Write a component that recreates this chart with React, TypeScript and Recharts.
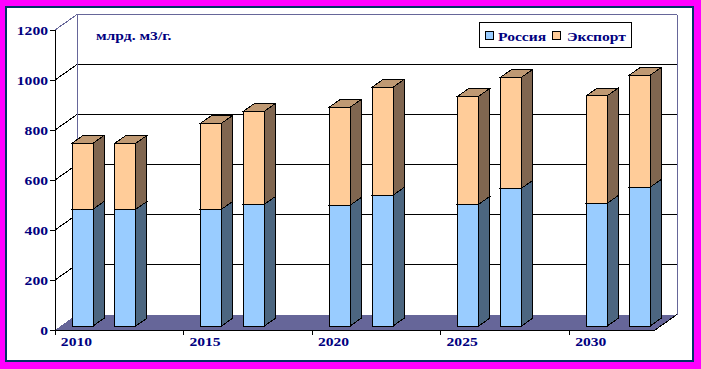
import React from 'react';
import { BarChart, Bar, XAxis, YAxis, CartesianGrid, Legend, Customized } from 'recharts';

// ---- data ----
const years = ['2010', '2015', '2020', '2025', '2030'];
const russia = [467, 467, 467, 487, 483, 523, 487, 551, 491, 555];
const exportVals = [264, 264, 344, 372, 392, 432, 432, 444, 430, 448];
const yTicks = [0, 200, 400, 600, 800, 1000, 1200];
const seriesNames = ['Россия', 'Экспорт'];
const unitLabel = 'млрд. м3/г.';

type Row = { key: string; label: string; russia?: number; export?: number };
const data: Row[] = [];
years.forEach((yr, i) => {
  data.push({ key: `${yr}-a`, label: yr, russia: russia[2 * i], export: exportVals[2 * i] });
  data.push({ key: `${yr}-b`, label: '', russia: russia[2 * i + 1], export: exportVals[2 * i + 1] });
  if (i < years.length - 1) data.push({ key: `${yr}-gap`, label: '' });
});

// ---- layout / style ----
const W = 701;
const H = 369;
const PLOT_L = 55;
const PLOT_T = 30;
const PLOT_R = 655;
const PLOT_B = 330;
const DX = 22; // depth of the box
const DY = 15.5;
const FX = 6; // bar front offset inside depth
const FY = 4;
const BX = 11; // bar depth
const BY = 7.75;
const FONT = "'Liberation Serif', 'Times New Roman', serif";
const NAVY = '#000080';
const SX = 1.2;
const WALL = '#666699';

const StretchText = ({ x, y, anchor, children }: any) => (
  <text
    transform={`translate(${x},${y}) scale(${SX},1)`}
    textAnchor={anchor}
    fontFamily={FONT}
    fontWeight="bold"
    fontSize={13}
    fill={NAVY}
  >
    {children}
  </text>
);

const makeShape = (front: string, side: string, top: string) => (props: any) => {
  const { x, y, width, height } = props;
  if (!height || height <= 0 || !isFinite(y)) return <g />;
  const fx = x + FX;
  const fy = y - FY;
  const w = width;
  const h = height;
  return (
    <g>
      <polygon
        points={`${fx},${fy} ${fx + BX},${fy - BY} ${fx + w + BX},${fy - BY} ${fx + w},${fy}`}
        fill={top}
        stroke="#000"
        strokeWidth={1}
      />
      <polygon
        points={`${fx + w},${fy} ${fx + w + BX},${fy - BY} ${fx + w + BX},${fy - BY + h} ${fx + w},${fy + h}`}
        fill={side}
        stroke="#000"
        strokeWidth={1}
      />
      <rect x={fx} y={fy} width={w} height={h} fill={front} stroke="#000" strokeWidth={1} />
    </g>
  );
};

const russiaShape = makeShape('#99CCFF', '#4C6680', '#739ABF');
const exportShape = makeShape('#FFCC99', '#806650', '#BF9973');

const gridLine = (p: any) => {
  const { x1, x2, y1, index } = p;
  const top = typeof p.y === 'number' ? p.y : PLOT_T;
  const bottom = top + (typeof p.height === 'number' ? p.height : PLOT_B - PLOT_T);
  const by = y1 - DY;
  if (Math.abs(y1 - bottom) < 0.5) {
    return (
      <g key={`g-${index}`}>
        <polygon
          points={`${x1},${y1} ${x1 + DX},${by} ${x2 + DX},${by} ${x2},${y1}`}
          fill={WALL}
          stroke="none"
        />
        <line x1={x2} y1={y1} x2={x2 + DX} y2={by} stroke="#000" />
      </g>
    );
  }
  if (Math.abs(y1 - top) < 0.5) {
    return (
      <g key={`g-${index}`}>
        <line x1={x1} y1={y1} x2={x1 + DX} y2={by} stroke={WALL} />
        <line x1={x1 + DX} y1={by} x2={x2 + DX} y2={by} stroke={WALL} />
        <line x1={x1 + DX} y1={by} x2={x1 + DX} y2={bottom - DY} stroke={WALL} />
        <line x1={x2 + DX} y1={by} x2={x2 + DX} y2={bottom - DY} stroke={WALL} />
      </g>
    );
  }
  return (
    <g key={`g-${index}`}>
      <line x1={x1} y1={y1} x2={x1 + DX} y2={by} stroke="#000" />
      <line x1={x1 + DX} y1={by} x2={x2 + DX} y2={by} stroke="#000" />
    </g>
  );
};

const YTick = (props: any) => {
  const { x, y, payload } = props;
  return (
    <StretchText x={x} y={y + 4.5} anchor="end">
      {payload.value}
    </StretchText>
  );
};

const XTick = (props: any) => {
  const { x, y, payload, index } = props;
  const i = typeof payload?.index === 'number' ? payload.index : index;
  const row = data[i];
  if (!row || !row.label) return <g />;
  const bw = (PLOT_R - PLOT_L) / data.length;
  const axisY = y - 8;
  return (
    <g>
      <line x1={x - bw / 2} x2={x - bw / 2} y1={axisY} y2={axisY + 5} stroke="#000" />
      <StretchText x={x} y={axisY + 16} anchor="middle">
        {row.label}
      </StretchText>
    </g>
  );
};

const LEG_W = 153;
const LEG_H = 26;
const legendSquareX = [6, 73];
const legendTextX = [19, 88];

const renderLegend = (props: any) => {
  const payload = props.payload ?? [];
  return (
    <svg width={LEG_W} height={LEG_H} style={{ display: 'block', overflow: 'visible' }}>
      <rect x={0.5} y={0.5} width={LEG_W - 1} height={LEG_H - 1} fill="#fff" stroke="#000" />
      {payload.map((item: any, i: number) => (
        <g key={`leg-${i}`}>
          <rect x={legendSquareX[i] + 0.5} y={9.5} width={8} height={8} fill={item.color} stroke="#000" />
          <StretchText x={legendTextX[i]} y={18.5} anchor="start">
            {item.value}
          </StretchText>
        </g>
      ))}
    </svg>
  );
};

export default function App() {
  return (
    <div style={{ position: 'absolute', left: 0, top: 0, width: W, height: H, background: '#FF00FF' }}>
      <div
        style={{
          position: 'absolute',
          left: 5,
          top: 6,
          width: 689,
          height: 356,
          border: '2px solid #003366',
          boxSizing: 'border-box',
          background: '#fff',
        }}
      />
      <div style={{ position: 'absolute', left: 0, top: 0 }}>
        <BarChart
          width={W}
          height={H}
          data={data}
          margin={{ top: PLOT_T, right: W - PLOT_R, left: 0, bottom: 9 }}
          barSize={21}
          style={{ shapeRendering: 'crispEdges' }}
        >
          <CartesianGrid vertical={false} horizontal={gridLine} />
          <XAxis
            dataKey="key"
            height={30}
            interval={0}
            tickLine={false}
            tickSize={6}
            tickMargin={2}
            axisLine={{ stroke: '#000' }}
            tick={<XTick />}
          />
          <YAxis
            width={PLOT_L}
            domain={[0, 1200]}
            ticks={yTicks}
            interval={0}
            tickSize={5}
            tickMargin={2}
            tickLine={{ stroke: '#000' }}
            axisLine={{ stroke: '#000' }}
            tick={<YTick />}
          />
          <Bar
            dataKey="russia"
            name={seriesNames[0]}
            stackId="a"
            fill="#99CCFF"
            shape={russiaShape}
            isAnimationActive={false}
          />
          <Bar
            dataKey="export"
            name={seriesNames[1]}
            stackId="a"
            fill="#FFCC99"
            shape={exportShape}
            isAnimationActive={false}
          />
          <Legend
            layout="horizontal"
            verticalAlign="middle"
            align="center"
            content={renderLegend}
            wrapperStyle={{ position: 'absolute', left: 479, top: 22, width: LEG_W, height: LEG_H }}
          />
          <Customized component={<StretchText x={96} y={40} anchor="start">{unitLabel}</StretchText>} />
        </BarChart>
      </div>
    </div>
  );
}
